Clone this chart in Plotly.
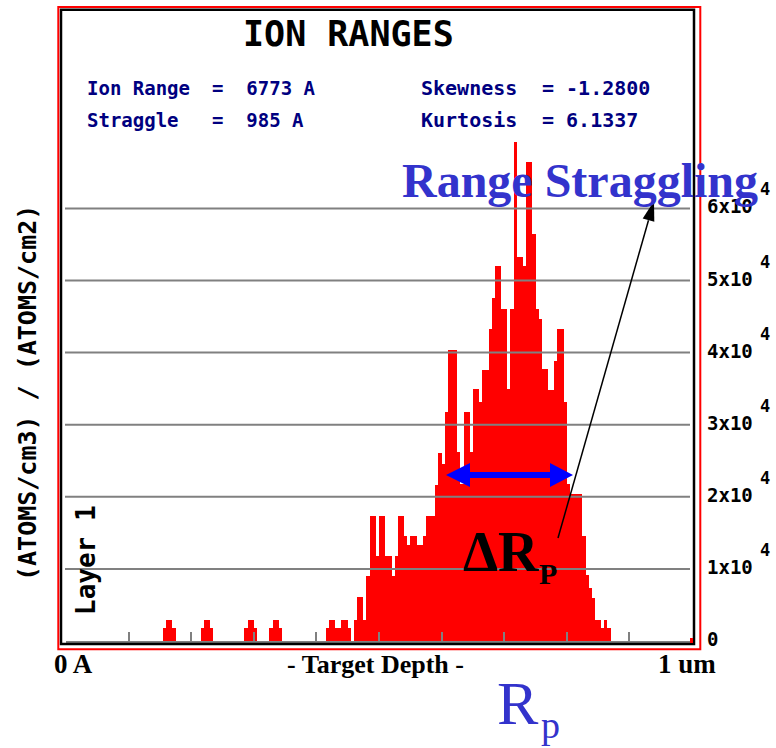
import plotly.graph_objects as go

# ---- data -------------------------------------------------------------
# Implanted-ion depth histogram, 50 A bins, first bin starts at 31*50 A.
# Concentration in units of 10^4 (atoms/cm3)/(atoms/cm2).
BIN_WIDTH_A = 50
FIRST_BIN = 31
conc_1e4 = [
    0.18, 0.29, 0.29, 0.18,                                  # 31-34
    0, 0, 0, 0, 0, 0, 0, 0,                                  # 35-42
    0.18, 0.29, 0.29, 0.18,                                  # 43-46
    0, 0, 0, 0, 0, 0, 0, 0, 0, 0,                            # 47-56
    0.18, 0.29, 0.29, 0.18,                                  # 57-60
    0, 0, 0, 0,                                              # 61-64
    0.18, 0.29, 0.29, 0.18,                                  # 65-68
    0, 0, 0, 0, 0, 0, 0, 0, 0, 0, 0, 0, 0, 0,                # 69-82
    0.18, 0.29, 0.29, 0.18, 0.18, 0.29, 0.29, 0.18, 0,       # 83-91
    0.29, 0.61, 0.61, 0.29, 0.90, 1.73, 1.73, 1.18, 1.73,    # 92-100
    1.73, 1.18, 1.18, 0.90, 1.18, 1.73, 1.73, 1.45, 1.33,    # 101-109
    1.45, 1.45, 1.33, 1.33, 1.45, 1.73, 1.73, 1.73, 2.17,    # 110-118
    2.61, 2.46, 3.17, 4.04, 4.04, 4.04, 2.62, 2.18, 3.17,    # 119-127
    3.17, 2.62, 3.49, 3.49, 3.32, 3.76, 3.76, 4.33, 4.76,    # 128-136
    5.20, 5.20, 4.60, 4.60, 3.50, 4.60, 6.92, 5.32, 5.32,    # 137-145
    5.20, 6.64, 6.64, 5.64, 4.60, 4.46, 3.77, 3.77, 3.48,    # 146-154
    3.48, 3.89, 4.33, 4.33, 3.32, 2.18, 2.04, 2.04, 2.04,    # 155-163
    2.04, 1.45, 0.91, 0.74, 0.60, 0.29, 0.29, 0.18, 0.29,    # 164-172
    0.18,                                                    # 173
]
depth_A = [(FIRST_BIN + i + 0.5) * BIN_WIDTH_A for i in range(len(conc_1e4))]

depth_ticks_A = [0, 1000, 2000, 3000, 4000, 5000, 6000, 7000, 8000, 9000]
grid_levels = [1, 2, 3, 4, 5, 6]
level_labels = ["0", "1x10", "2x10", "3x10", "4x10", "5x10", "6x10"]
level_exponent = "4"

stats_left = [("Ion Range", "=  6773 A"), ("Straggle", "=  985 A")]
stats_right = [("Skewness", "= -1.2800"), ("Kurtosis", "= 6.1337")]

# ---- geometry helpers (pixel -> paper / data) -------------------------
W, H = 776, 748
L, R = 66, 692          # plot area, px
T, B = 10, 641
PX_PER_UNIT = 72.1
YMAX = (B - T) / PX_PER_UNIT
XMAX = 10000


def fx(px):
    return (px - L) / (R - L)


def fy(py):
    return (B - py) / (B - T)


def dx(px):
    return fx(px) * XMAX


def dy(py):
    return fy(py) * YMAX


PIXEL_FONT = "DejaVu Sans Mono"
SERIF = "Liberation Serif"
NAVY = "#000080"
LABEL_BLUE = "#3333CC"
GRID = "#808080"

fig = go.Figure()
fig.add_trace(go.Bar(
    x=depth_A, y=conc_1e4, width=BIN_WIDTH_A,
    marker=dict(color="#FF0000", line=dict(width=0)),
    hoverinfo="skip",
))

shapes = []
# horizontal grid lines drawn over the histogram
for lvl in grid_levels:
    shapes.append(dict(type="line", xref="paper", yref="y",
                       x0=fx(65), x1=fx(690), y0=lvl, y1=lvl,
                       line=dict(color=GRID, width=2), layer="above"))
# black inner frame and red outer frame
shapes.append(dict(type="rect", xref="paper", yref="paper",
                   x0=fx(61), x1=fx(694), y0=fy(644), y1=fy(9.7),
                   line=dict(color="black", width=2.5)))
shapes.append(dict(type="rect", xref="paper", yref="paper",
                   x0=fx(58.3), x1=fx(700.3), y0=fy(649.3), y1=fy(7),
                   line=dict(color="#FF0000", width=2)))
shapes.append(dict(type="rect", xref="paper", yref="paper",
                   x0=fx(690), x1=fx(693), y0=fy(643), y1=fy(638),
                   fillcolor="#FF0000", line=dict(width=0)))

# blue double-headed arrow marking the straggling width
arrow_pts = [(446, 475), (470, 463), (470, 472), (550, 472), (550, 463),
             (573, 475), (550, 487), (550, 478), (470, 478), (470, 487)]
path = "M " + " L ".join(f"{dx(px):.1f},{dy(py):.4f}" for px, py in arrow_pts) + " Z"
shapes.append(dict(type="path", xref="x", yref="y", path=path,
                   fillcolor="#0000FF", line=dict(width=0)))

# thin black pointer from the width label up to the caption
tail = (558, 538)
tip = (654, 201)
base = (648.5, 220.2)
shapes.append(dict(type="line", xref="x", yref="y",
                   x0=dx(tail[0]), y0=dy(tail[1]), x1=dx(base[0]), y1=dy(base[1]),
                   line=dict(color="black", width=1.5)))
head = [tip, (654.3, 221.8), (642.7, 218.6)]
hpath = "M " + " L ".join(f"{dx(px):.1f},{dy(py):.4f}" for px, py in head) + " Z"
shapes.append(dict(type="path", xref="x", yref="y", path=hpath,
                   fillcolor="black", line=dict(width=0)))

ann = []


def text(s, px, py, size, family, color="black", xanchor="left",
         angle=0, yref="paper", yval=None, yshift=0):
    ann.append(dict(
        text=s, xref="paper", yref=yref,
        x=fx(px), y=fy(py) if yval is None else yval,
        xanchor=xanchor, yanchor="middle", showarrow=False,
        textangle=angle, yshift=yshift,
        font=dict(family=family, size=size, color=color)))


# title and statistics block
text("<b>ION RANGES</b>", 348, 34, 35, PIXEL_FONT, xanchor="center")
for (name, val), py in zip(stats_left, [88, 120]):
    text(f"<b>{name}</b>", 85, py, 19, PIXEL_FONT, NAVY)
    text(f"<b>{val}</b>", 210, py, 19, PIXEL_FONT, NAVY)
for (name, val), py in zip(stats_right, [88, 120]):
    text(f"<b>{name}</b>", 419, py, 20, PIXEL_FONT, NAVY)
    text(f"<b>{val}</b>", 540, py, 20, PIXEL_FONT, NAVY)

# vertical axis caption and layer tag
text("<b>(ATOMS/cm3) / (ATOMS/cm2)</b>", 27, 393, 25, PIXEL_FONT,
     xanchor="center", angle=-90)
text("<b>Layer 1</b>", 86, 560, 26, PIXEL_FONT, xanchor="center", angle=-90)

# concentration scale on the right
for i, lab in enumerate(level_labels):
    text(f"<b>{lab}</b>", 705, 0, 19, PIXEL_FONT, yref="y", yval=i, yshift=2)
    if i > 0:
        text(f"<b>{level_exponent}</b>", 758, 0, 17, PIXEL_FONT,
             yref="y", yval=i, yshift=19)

# depth axis captions
text("<b>0 A</b>", 52, 664, 27, SERIF)
text("<b>- Target Depth -</b>", 375, 664, 26, SERIF, xanchor="center")
text("<b>1 um</b>", 718, 664, 27, SERIF, xanchor="right")

# overlay captions
text("<b>Range Straggling</b>", 400, 181, 48, SERIF, LABEL_BLUE)
text("<b>\u0394R</b>", 461, 552, 56, SERIF)
text("<b>P</b>", 537, 573, 30, SERIF)
text("R", 495, 703, 62, SERIF, LABEL_BLUE)
text("p", 539, 725, 38, SERIF, LABEL_BLUE)

fig.update_layout(
    width=W, height=H,
    margin=dict(l=L, r=W - R, t=T, b=H - B, pad=0),
    paper_bgcolor="white", plot_bgcolor="white",
    showlegend=False, bargap=0,
    shapes=shapes, annotations=ann,
    xaxis=dict(range=[0, XMAX], showgrid=False, zeroline=False,
               showline=True, linecolor=GRID, linewidth=2,
               ticks="inside", ticklen=9, tickwidth=2, tickcolor=GRID,
               tickvals=depth_ticks_A, showticklabels=False,
               layer="above traces", fixedrange=True),
    yaxis=dict(range=[0, YMAX], showgrid=False, zeroline=False,
               showline=False, showticklabels=False, ticks="",
               fixedrange=True),
)

fig.write_html("out.html")
